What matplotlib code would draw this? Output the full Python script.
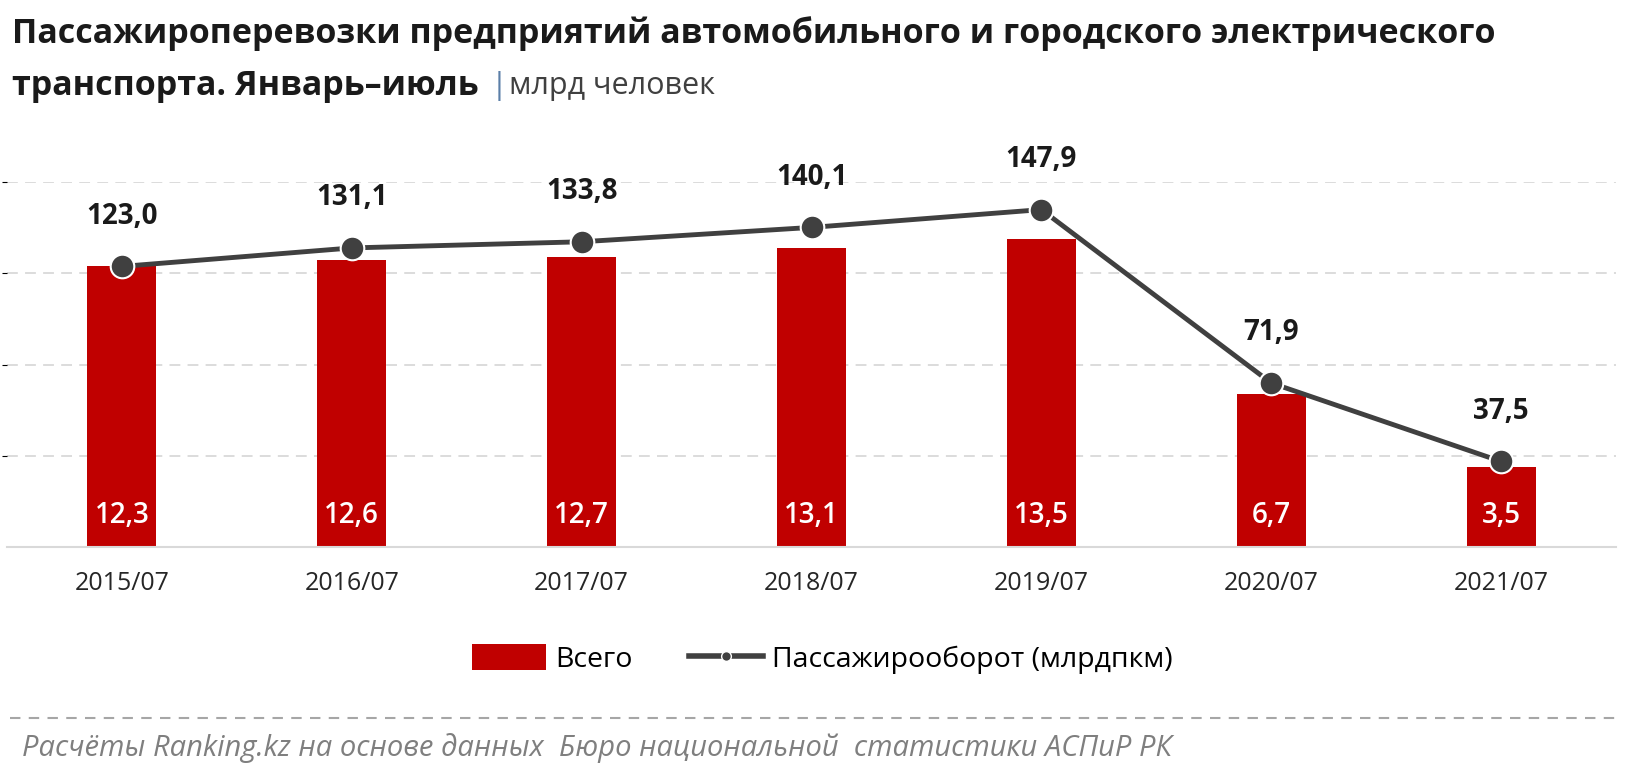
import numpy as np
import matplotlib
matplotlib.use("Agg")
import matplotlib.pyplot as plt
from matplotlib.patches import Patch
from matplotlib.lines import Line2D

plt.rcParams["font.family"] = ["Open Sans", "DejaVu Sans"]

years = ["2015/07", "2016/07", "2017/07", "2018/07", "2019/07", "2020/07", "2021/07"]
vsego = [12.3, 12.6, 12.7, 13.1, 13.5, 6.7, 3.5]
passoborot = [123.0, 131.1, 133.8, 140.1, 147.9, 71.9, 37.5]

RED = "#C00000"
DARK = "#404040"
W, H = 1645, 777

fig = plt.figure(figsize=(W / 100, H / 100), dpi=100)
ax = fig.add_axes([7 / W, 1 - 547 / H, (1616 - 7) / W, (547 - 182) / H])
x = np.arange(len(years))

ax.bar(x, vsego, width=0.3, color=RED, zorder=2)
ax.set_xlim(-0.5, len(years) - 0.5)
ax.set_ylim(0, 16)
ax.set_yticks([4, 8, 12, 16])
ax.set_axisbelow(True)
ax.grid(axis="y", color="#d9d9d9", linestyle=(0, (6, 4)), linewidth=1.3)
for s in ["top", "right", "left"]:
    ax.spines[s].set_visible(False)
ax.spines["bottom"].set_color("#d9d9d9")
ax.spines["bottom"].set_linewidth(1.5)
ax.tick_params(axis="y", left=False, labelleft=False)
ax.set_xticks(x)
ax.set_xticklabels(years, fontsize=18, color="#262626")
ax.tick_params(axis="x", length=0, pad=17)

for xi, v in zip(x, vsego):
    ax.annotate(f"{v:.1f}".replace(".", ","), (xi, 0), xytext=(0, 23),
                textcoords="offset points", ha="center", va="center",
                color="white", fontsize=20, fontweight="semibold")

ax2 = ax.twinx()
ax2.set_ylim(0, 160)
ax2.plot(x, passoborot, color=DARK, linewidth=3.5, marker="o", markersize=17,
         markerfacecolor=DARK, markeredgecolor="white", markeredgewidth=1.5,
         zorder=3)
ax2.axis("off")
for xi, v in zip(x, passoborot):
    ax2.annotate(f"{v:.1f}".replace(".", ","), (xi, v), xytext=(0, 36),
                 textcoords="offset points", ha="center", va="center",
                 color="#1a1a1a", fontsize=20, fontweight="bold")

# legend
handles = [Patch(facecolor=RED),
           Line2D([0], [0], color=DARK, linewidth=4, marker="o", markersize=7,
                  markerfacecolor=DARK, markeredgecolor="white")]
fig.legend(handles, ["Всего", "Пассажирооборот (млрдпкм)"], loc="center",
           bbox_to_anchor=(0.5, 1 - 659 / H), ncol=2, frameon=False,
           fontsize=20.5, handlelength=2.6, handleheight=1.0, columnspacing=2.0,
           handletextpad=0.3)

# title
t1 = fig.text(12 / W, 1 - 34 / H,
              "Пассажироперевозки предприятий автомобильного и городского электрического",
              fontsize=24.5, fontweight="bold", color="#1a1a1a", va="center")
t2 = fig.text(12 / W, 1 - 86 / H, "транспорта. Январь–июль",
              fontsize=24.5, fontweight="bold", color="#1a1a1a", va="center")
fig.canvas.draw()
bb = t2.get_window_extent()
fig.text((bb.x1 + 12) / W, 1 - 86 / H, "|", fontsize=22, color="#5b7fa8", va="center")
fig.text((bb.x1 + 30) / W, 1 - 86 / H, "млрд человек", fontsize=22,
         color=DARK, va="center")

# separator and source
fig.add_artist(Line2D([10 / W, 1615 / W], [1 - 718 / H, 1 - 718 / H],
                      color="#a6a6a6", linewidth=1.5, linestyle=(0, (5, 4))))
fig.text(22 / W, 1 - 748 / H,
         "Расчёты Ranking.kz на основе данных  Бюро национальной  статистики АСПиР РК",
         fontsize=21, style="italic", color="#7f7f7f", va="center")

fig.savefig("out.png", dpi=100)
